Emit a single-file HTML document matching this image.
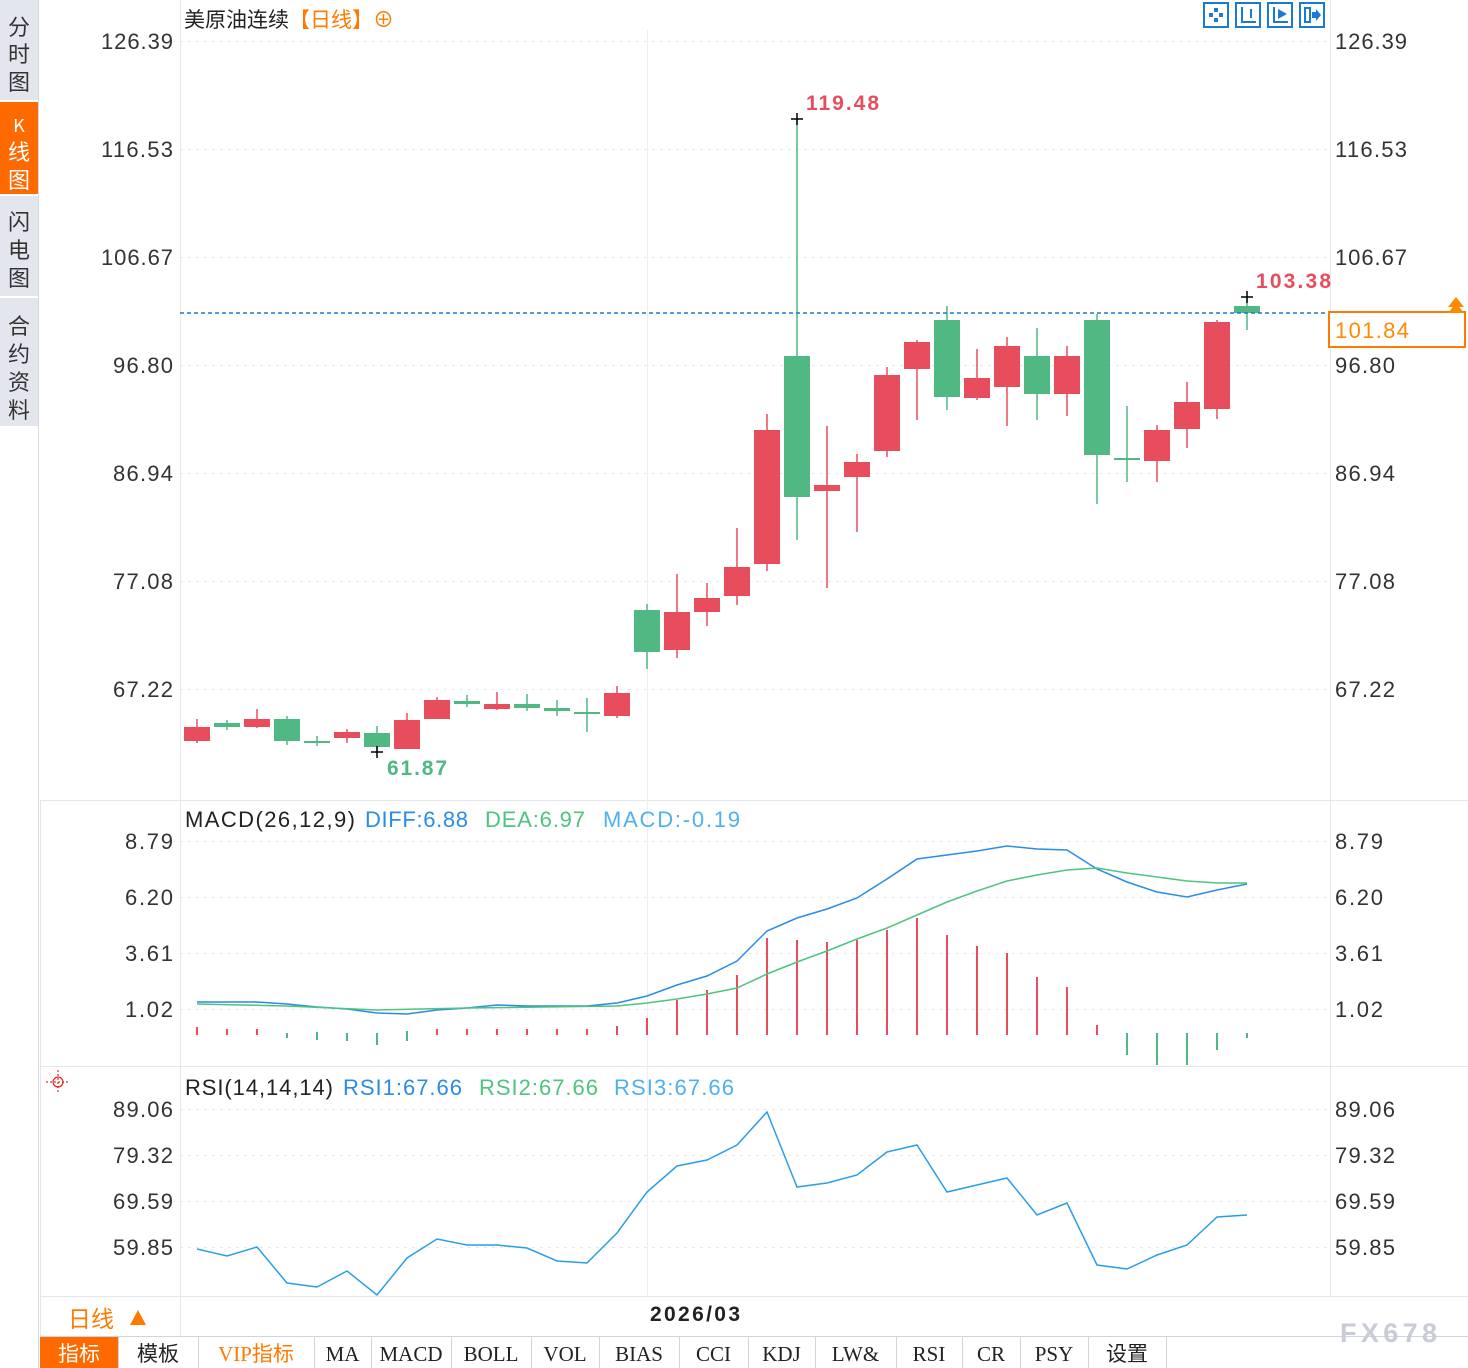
<!DOCTYPE html>
<html><head><meta charset="utf-8"><style>
body{margin:0;background:#fff;width:1468px;height:1368px;overflow:hidden;font-family:"Liberation Sans","Noto Sans CJK SC",sans-serif}
svg{display:block}
</style></head><body>
<svg id="s" width="1468" height="1368" xmlns="http://www.w3.org/2000/svg" font-family="Liberation Sans, Noto Sans CJK SC, sans-serif">
<rect x="0" y="0" width="38" height="1368" fill="#fff"/>
<rect x="0" y="0" width="38" height="100" fill="#e4e6ee"/>
<rect x="0" y="102" width="38" height="92" fill="#ff6a00"/>
<rect x="0" y="196" width="38" height="100" fill="#e4e6ee"/>
<rect x="0" y="298" width="38" height="128" fill="#e4e6ee"/>
<line x1="38.5" y1="0" x2="38.5" y2="1368" stroke="#d8dbe3"/>
<g font-size="22" fill="#333" text-anchor="middle" font-family="Noto Sans CJK SC, sans-serif">
<text x="19" y="35">分</text><text x="19" y="62">时</text><text x="19" y="90">图</text>
<text x="19" y="132" fill="#fff" font-size="18">K</text><text x="19" y="160" fill="#fff">线</text><text x="19" y="188" fill="#fff">图</text>
<text x="19" y="230">闪</text><text x="19" y="258">电</text><text x="19" y="286">图</text>
<text x="19" y="334">合</text><text x="19" y="362">约</text><text x="19" y="390">资</text><text x="19" y="418">料</text>
</g>
<g stroke="#e3e6ec">
<line x1="40" y1="800.5" x2="1468" y2="800.5"/>
<line x1="40" y1="1066.5" x2="1468" y2="1066.5"/>
<line x1="40" y1="1296.5" x2="1468" y2="1296.5"/>
<line x1="180.5" y1="0" x2="180.5" y2="1336"/>
<line x1="1330.5" y1="0" x2="1330.5" y2="1296"/>
<line x1="647.5" y1="30" x2="647.5" y2="1296" stroke="#eceef2"/>
<line x1="40.5" y1="800" x2="40.5" y2="1368"/>
</g>
<g id="grid" stroke="#e6e8ee" stroke-dasharray="3,5"></g>
<text x="184" y="27" font-size="21" fill="#222" font-family="Noto Sans CJK SC, sans-serif">美原油连续<tspan fill="#ff7a00">【日线】⊕</tspan></text>
<g stroke="#1a7ad4" stroke-width="2" fill="none">
<rect x="1204" y="3" width="24" height="24"/><rect x="1236" y="3" width="24" height="24"/><rect x="1268" y="3" width="24" height="24"/><rect x="1300" y="3" width="24" height="24"/>
</g>
<g fill="#1a7ad4"><rect x="1214" y="8" width="4" height="4"/><rect x="1214" y="18" width="4" height="4"/><rect x="1209" y="13" width="4" height="4"/><rect x="1219" y="13" width="4" height="4"/>
<rect x="1241" y="7" width="2" height="16"/><rect x="1241" y="21" width="15" height="2"/><rect x="1250" y="9" width="2" height="9"/>
<rect x="1273" y="7" width="2" height="16"/><rect x="1273" y="21" width="15" height="2"/><polygon points="1278,9 1287,14 1278,19"/>
<rect x="1305" y="8" width="5" height="14" fill="none" stroke="#1a7ad4" stroke-width="2"/><polygon points="1312,12 1316,12 1316,9 1321,15 1316,21 1316,18 1312,18"/></g>
<g id="g"></g>
<line x1="180" y1="313" x2="1330" y2="313" stroke="#1a7ad4" stroke-width="1.5" stroke-dasharray="4,3"/>
<rect x="1329" y="312" width="136" height="35" fill="#fff" stroke="#ff7a00" stroke-width="2"/>
<text x="1335" y="338" font-size="22" fill="#ff8a00" textLength="74">101.84</text>
<polygon points="1448,307 1456,297 1464,307" fill="#ff8a00"/><polygon points="1448,313 1456,303 1464,313" fill="#ff8a00"/>
<text x="806" y="110" font-size="21" fill="#e84d5d" font-weight="bold" textLength="73">119.48</text>
<text x="1256" y="288" font-size="21" fill="#e84d5d" font-weight="bold" textLength="75">103.38</text>
<text x="387" y="775" font-size="21" fill="#4fb883" font-weight="bold" textLength="60">61.87</text>
<g font-size="22">
<text x="185" y="827" fill="#222" textLength="170">MACD(26,12,9)</text>
<text x="365" y="827" fill="#2a8ce8" textLength="103">DIFF:6.88</text>
<text x="485" y="827" fill="#4fc37f" textLength="100">DEA:6.97</text>
<text x="603" y="827" fill="#4fb0f0" textLength="137">MACD:-0.19</text>
<text x="185" y="1095" fill="#222" textLength="148">RSI(14,14,14)</text>
<text x="343" y="1095" fill="#2a8ce8" textLength="119">RSI1:67.66</text>
<text x="479" y="1095" fill="#4fc37f" textLength="119">RSI2:67.66</text>
<text x="614" y="1095" fill="#4fb0f0" textLength="120">RSI3:67.66</text>
</g>
<g stroke="#e60000" fill="none"><circle cx="58" cy="1082" r="5"/><line x1="46" y1="1082" x2="70" y2="1082" stroke-dasharray="2,2"/><line x1="58" y1="1070" x2="58" y2="1094" stroke-dasharray="2,2"/></g>
<text x="68" y="1327" font-size="23" fill="#ff7a00" font-family="Noto Sans CJK SC, sans-serif">日线</text>
<polygon points="130,1325 138,1310 146,1325" fill="#ff7a00"/>
<text x="650" y="1321" font-size="21" fill="#222" font-weight="bold" textLength="90">2026/03</text>
<line x1="40" y1="1336.5" x2="1468" y2="1336.5" stroke="#d0d4dc"/>
<text x="1340" y="1342" font-size="27" fill="#c8ccd6" font-weight="bold" textLength="97">FX678</text>
<g id="tb"></g>
</svg>
<script>
const NS="http://www.w3.org/2000/svg";
function el(p,t,a,txt){const e=document.createElementNS(NS,t);for(const k in a)e.setAttribute(k,a[k]);if(txt!=null)e.textContent=txt;p.appendChild(e);return e;}
const g=document.getElementById('g'),grid=document.getElementById('grid');
const axes=[[41,"126.39"],[149,"116.53"],[257,"106.67"],[365,"96.80"],[473,"86.94"],[581,"77.08"],[689,"67.22"],
[841,"8.79"],[897,"6.20"],[953,"3.61"],[1009,"1.02"],[1109,"89.06"],[1155,"79.32"],[1201,"69.59"],[1247,"59.85"]];
axes.forEach(([y,t])=>{el(grid,'line',{x1:180,y1:y+.5,x2:1330,y2:y+.5});
const w=t.length*12;
el(g,'text',{x:173-w,y:y+8,'font-size':22,fill:'#333',textLength:w},t);
el(g,'text',{x:1335,y:y+8,'font-size':22,fill:'#333',textLength:w},t);});
const R='#e84d5d',G='#4fb883';
const c=[[197,727,741,719,743,R],[227,723,727,720,730,G],[257,719,727,709,728,R],[287,719,741,716,745,G],[317,741,743,736,746,G],[347,732,738,729,743,R],[377,733,747,726,752,G],[407,720,749,713,749,R],[437,700,719,697,719,R],[467,701,704,695,707,G],[497,704,709,692,710,R],[527,704,708,694,711,G],[557,708,711,700,716,G],[587,712,713,698,732,G],[617,693,716,686,718,R],[647,610,652,604,669,G],[677,612,650,574,658,R],[707,598,612,583,626,R],[737,567,596,528,605,R],[767,430,564,414,571,R],[797,356,497,119,540,G],[827,485,491,426,588,R],[857,462,477,454,532,R],[887,375,451,367,457,R],[917,342,369,340,420,R],[947,320,397,306,410,G],[977,378,398,349,400,R],[1007,346,387,337,426,R],[1037,356,394,328,420,G],[1067,356,394,346,416,R],[1097,320,455,314,504,G],[1127,458,460,406,482,G],[1157,430,461,425,482,R],[1187,402,429,382,448,R],[1217,322,409,320,419,R],[1247,306,313,297,330,G]];
c.forEach(([x,t,b,wt,wb,col])=>{el(g,'line',{x1:x,y1:wt,x2:x,y2:wb,stroke:col,'stroke-width':1.5});el(g,'rect',{x:x-13,y:t,width:26,height:Math.max(2,b-t),fill:col});});
[[797,119],[377,752],[1247,297]].forEach(([x,y])=>{el(g,'path',{d:`M${x-6} ${y}H${x+6}M${x} ${y-6}V${y+6}`,stroke:'#000','stroke-width':1.5});});
const h=[[197,1027,1035,R],[227,1029,1035,R],[257,1029,1035,R],[287,1033,1038,G],[317,1032,1040,G],[347,1033,1041,G],[377,1033,1045,G],[407,1031,1041,G],[437,1029,1035,R],[467,1029,1035,R],[497,1029,1035,R],[527,1029,1035,R],[557,1029,1035,R],[587,1029,1035,R],[617,1026,1035,R],[647,1018,1035,R],[677,1000,1035,R],[707,990,1035,R],[737,975,1035,R],[767,938,1035,R],[797,940,1035,R],[827,942,1035,R],[857,940,1035,R],[887,930,1035,R],[917,918,1035,R],[947,935,1035,R],[977,946,1035,R],[1007,953,1035,R],[1037,977,1035,R],[1067,987,1035,R],[1097,1025,1035,R],[1127,1033,1055,G],[1157,1033,1065,G],[1187,1033,1065,G],[1217,1033,1050,G],[1247,1033,1038,G]];
h.forEach(([x,a,b,col])=>el(g,'line',{x1:x,y1:a,x2:x,y2:b,stroke:col,'stroke-width':2}));
function pl(pts,col){el(g,'polyline',{points:pts.map(p=>p.join(',')).join(' '),fill:'none',stroke:col,'stroke-width':1.5});}
pl([[197,1002],[257,1002],[287,1004],[317,1007],[347,1009],[377,1013],[407,1014],[437,1010],[467,1008],[497,1005],[527,1006],[557,1006],[587,1006],[617,1003],[647,996],[677,985],[707,976],[737,961],[767,931],[797,918],[827,909],[857,898],[887,879],[917,859],[947,855],[977,851],[1007,846],[1037,849],[1067,850],[1097,869],[1127,882],[1157,892],[1187,897],[1217,890],[1247,884]],'#2a8ce8');
pl([[197,1004],[287,1006],[377,1010],[467,1008],[617,1006],[647,1003],[677,999],[707,994],[737,988],[767,974],[797,962],[827,951],[857,939],[887,928],[917,915],[947,902],[977,891],[1007,881],[1037,875],[1067,870],[1097,868],[1127,873],[1157,877],[1187,881],[1217,883],[1247,883]],'#4fc37f');
pl([[197,1249],[227,1256],[257,1247],[287,1283],[317,1287],[347,1271],[377,1295],[407,1258],[437,1239],[467,1245],[497,1245],[527,1248],[557,1261],[587,1263],[617,1233],[647,1192],[677,1166],[707,1160],[737,1145],[767,1112],[797,1187],[827,1183],[857,1175],[887,1152],[917,1145],[947,1192],[977,1185],[1007,1178],[1037,1215],[1067,1203],[1097,1265],[1127,1269],[1157,1255],[1187,1245],[1217,1217],[1247,1215]],'#2a9ee8');
const tb=document.getElementById('tb');
const items=[["指标",40,118],["模板",118,198],["VIP指标",198,314],["MA",314,371],["MACD",371,451],["BOLL",451,531],["VOL",531,599],["BIAS",599,679],["CCI",679,748],["KDJ",748,815],["LW&",815,896],["RSI",896,962],["CR",962,1020],["PSY",1020,1088],["设置",1088,1166]];
items.forEach(([t,a,b],i)=>{if(i==0)el(tb,'rect',{x:a,y:1337,width:b-a,height:31,fill:'#ff6a00'});
el(tb,'line',{x1:b+.5,y1:1337,x2:b+.5,y2:1368,stroke:'#d0d4dc'});
el(tb,'text',{x:(a+b)/2,y:1361,'font-size':21,'text-anchor':'middle',fill:i==0?'#fff':(i==2?'#ff7a00':'#222'),'font-family':'Liberation Serif, Noto Sans CJK SC, serif'},t);});
</script>
</body></html>
